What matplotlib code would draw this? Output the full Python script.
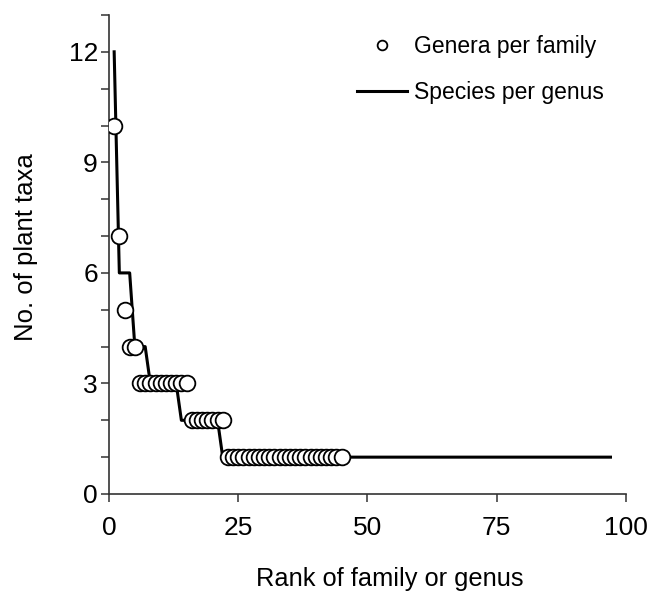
import matplotlib
matplotlib.use("Agg")
import matplotlib.pyplot as plt
import numpy as np
from matplotlib.lines import Line2D
from matplotlib.ticker import MultipleLocator

plt.rcParams['font.family'] = ['Liberation Sans', 'DejaVu Sans']

# genera per family, ranked
genera_per_family = [10, 7, 5, 4, 4] + [3] * 10 + [2] * 7 + [1] * 23
# species per genus, ranked
species_per_genus = [12, 6, 6, 6, 4, 4, 4] + [3] * 6 + [2] * 8 + [1] * 76

rank_fam = np.arange(1, len(genera_per_family) + 1)
rank_gen = np.arange(1, len(species_per_genus) + 1)

fig = plt.figure(figsize=(6.55, 5.99), dpi=100)
ax = fig.add_axes([0.1664, 0.1753, 0.7893, 0.7997])

ax.plot(rank_gen, species_per_genus, color='black', lw=2.2, zorder=2)
for x, y in zip(rank_fam, genera_per_family):
    ax.plot(x, y, 'o', ms=11.3, mfc='white', mec='black', mew=1.3, zorder=3)

ax.set_xlim(0, 100)
ax.set_ylim(0, 13)
ax.set_xticks([0, 25, 50, 75, 100])
ax.set_yticks([0, 3, 6, 9, 12])
ax.yaxis.set_minor_locator(MultipleLocator(1))
ax.tick_params(axis='both', which='both', direction='out', length=6, width=1.1,
               labelsize=19, color='#333333')
ax.tick_params(axis='x', pad=10)
ax.tick_params(axis='y', pad=2)

for s in ['top', 'right']:
    ax.spines[s].set_visible(False)
for s in ['left', 'bottom']:
    ax.spines[s].set_linewidth(1.2)
    ax.spines[s].set_color('#333333')

ax.set_xlabel('Rank of family or genus', fontsize=18.3, labelpad=19)
ax.set_ylabel('No. of plant taxa', fontsize=18.5, labelpad=22)
ax.xaxis.label.set_x(0.543)
ax.yaxis.label.set_y(0.515)

handles = [
    Line2D([], [], ls='none', marker='o', ms=7, mfc='white', mec='black', mew=1.3),
    Line2D([], [], color='black', lw=2.2),
]
fig.legend(handles, ['Genera per family', 'Species per genus'],
           loc='upper left', bbox_to_anchor=(357 / 655, 1 - 35 / 599),
           frameon=False, fontsize=16.5, handlelength=2.2, handletextpad=0.3,
           labelspacing=1.0, borderpad=0, borderaxespad=0)

fig.savefig('out.png', dpi=100)
